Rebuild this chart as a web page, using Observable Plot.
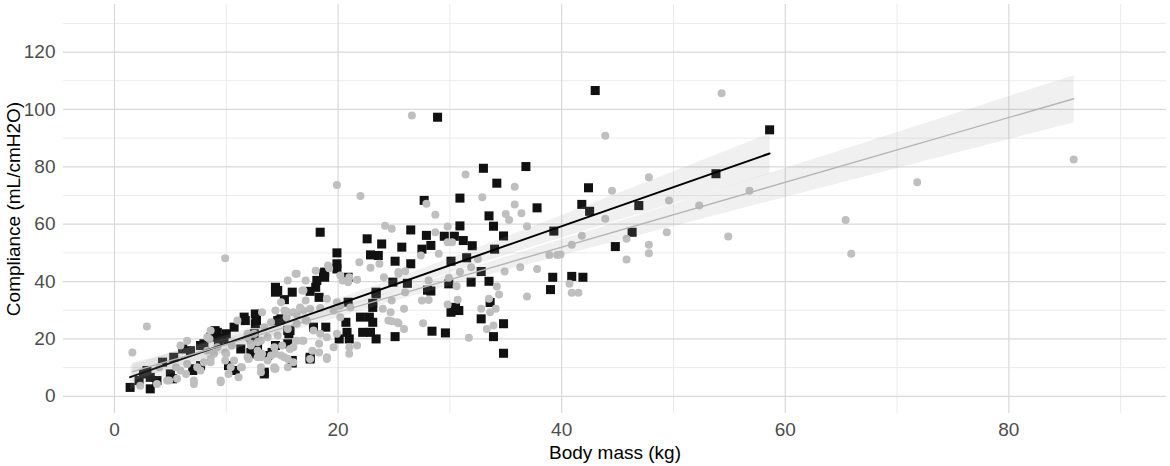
<!DOCTYPE html>
<html>
<head>
<meta charset="utf-8">
<script src="https://cdn.jsdelivr.net/npm/d3@7"></script>
<script src="https://cdn.jsdelivr.net/npm/@observablehq/plot@0.6"></script>
<style>
  html, body { margin: 0; padding: 0; background: #fff; }
  #chart svg { display: block; }
</style>
</head>
<body>
<div id="chart"></div>
<script>
// Black squares: body mass (kg)
const blackMass = [43.0,58.6,53.8,42.4,41.8,42.5,46.9,39.3,46.3,44.8,39.2,40.9,41.9,39.0,
  28.9,33.0,36.8,34.2,27.7,30.9,37.8,33.5,30.9,33.9,26.5,27.9,29.5,30.4,31.2,34.8,25.7,27.5,28.3,32.0,25.1,26.5,30.1,31.5,34.0,32.8,24.9,26.2,29.9,31.9,33.5,28.0,28.3,33.6,30.1,30.8,30.5,32.8,34.8,25.1,28.4,29.6,33.9,34.8,
  18.4,22.6,23.9,19.9,22.9,23.6,19.9,19.9,18.8,18.8,20.9,14.4,14.4,15.9,15.2,18.0,17.5,18.3,23.4,20.9,23.1,23.1,12.7,12.7,14.8,22.0,22.8,23.1,18.9,20.7,20.8,20.1,22.2,22.9,23.4,15.7,12.2,12.5,12.8,12.5,14.4,14.1,15.9,17.5,13.4,
  1.4,3.2,2.9,2.6,4.3,5.0,6.1,6.8,7.7,7.1,8.6,9.2,10.0,10.7,11.6,9.3,10.2,10.8,11.3,12.2,2.2,3.8,
  23.4,14.6,15.5,18.7,21.0,17.8,3.2,5.3,8.0,9.0,9.8,11.7,12.6,12.6,13.4,14.6,14.9,15.6,15.9,18.1,
  5.2,7.0,7.7,13.7,15.5,17.5];
// Black squares: compliance (mL/cmH2O)
const blackCompliance = [106.6,92.9,77.6,72.7,66.9,64.5,66.5,57.6,57.2,52.2,41.5,41.8,41.5,37.2,
  97.3,79.5,80.1,74.3,68.3,69.1,65.7,62.9,59.4,59.3,58.0,56.1,55.8,55.8,54.3,55.9,52.0,51.3,52.6,52.5,47.1,46.2,47.1,48.3,51.3,43.5,39.8,39.4,39.2,39.8,40.1,37.0,36.7,32.7,29.3,29.9,31.0,27.0,25.3,20.8,22.7,22.1,20.8,15.0,
  57.2,54.9,53.1,50.0,49.3,49.1,46.2,44.4,43.3,41.5,41.5,38.0,36.3,36.3,33.7,38.0,36.6,34.5,36.3,32.8,32.4,31.0,28.1,26.4,26.6,27.6,27.6,25.8,24.1,25.8,22.3,20.0,22.3,22.3,20.0,22.9,20.6,21.8,17.1,14.8,17.7,15.3,11.6,13.6,7.8,
  3.1,2.6,9.0,7.8,11.9,7.8,16.5,15.9,17.7,9.6,20.6,22.3,21.8,24.1,27.6,19.4,10.7,9.0,16.5,15.3,5.5,5.5,
  35.7,26.4,22.9,42.7,20.0,24.1,6.6,13.6,18.3,22.9,20.0,26.4,28.7,25.3,8.4,36.9,27.0,21.8,12.5,40.4,
  6.1,9.0,10.7,14.2,18.3,13.0];

// Grey circles: body mass (kg)
const greyMass = [54.3,43.9,47.8,44.5,49.6,52.3,56.8,43.9,41.8,45.8,49.4,54.9,40.9,47.8,47.8,45.8,39.9,40.7,40.9,41.5,65.4,65.9,
  71.8,85.8,
  26.6,31.4,35.8,32.9,35.8,36.4,35.0,35.3,28.7,27.9,36.9,24.8,29.8,28.7,29.8,30.2,29.0,38.9,39.6,27.4,32.5,34.9,36.3,37.8,31.9,30.9,25.4,26.0,29.9,28.1,30.6,34.2,34.4,36.9,26.0,27.5,28.1,24.8,25.9,29.8,30.7,32.8,33.6,34.1,33.5,24.8,25.4,25.9,27.6,33.3,33.9,31.7,
  24.2,21.9,22.9,23.7,19.1,18.0,16.2,15.5,17.1,20.2,20.9,21.7,24.1,25.4,16.8,17.1,19.0,19.9,14.4,15.4,16.3,17.5,18.4,24.0,24.7,25.3,24.5,14.0,13.4,16.3,17.1,15.5,18.4,19.0,18.3,17.7,18.3,19.9,21.0,21.0,21.7,19.0,16.8,14.6,15.0,14.4,15.2,15.7,13.2,13.7,14.3,13.1,12.2,12.8,13.2,
  2.9,1.6,2.3,3.8,4.9,5.6,6.4,7.1,5.5,6.5,7.4,8.0,8.6,8.9,8.3,9.2,9.5,9.9,9.9,10.5,10.2,11.1,11.4,11.0,11.9,12.2,11.9,12.8,8.5,4.0,
  19.9,22.0,9.9,
  19.2,20.4,21.0,20.2,21.1,19.0,17.5,16.0,14.3,13.1,12.0,11.3,10.4,7.1,4.7,13.7,15.4,16.0,16.6,12.8,
  5.9,7.7,8.6,9.5,10.0,10.7,13.1,14.0,14.3,14.9,15.5,16.0,14.4,15.5,15.2,14.9,16.9,17.2,16.3,16.9,16.3,16.9,17.8,19.6,19.6,20.2,11.9,12.5,13.1,8.3,8.6,5.9,6.5];
// Grey circles: compliance (mL/cmH2O)
const greyCompliance = [105.7,90.8,76.4,71.7,68.3,66.5,71.7,61.9,56.0,54.9,57.2,55.7,52.8,52.8,49.9,47.7,49.4,39.2,36.1,36.1,61.5,49.7,
  74.6,82.6,
  97.9,77.3,73.1,69.4,66.9,63.8,63.6,61.5,63.3,67.1,59.3,58.4,59.2,57.2,53.7,53.7,49.7,49.3,49.3,49.1,47.9,43.5,45.0,44.4,45.0,43.3,43.3,43.6,41.3,40.4,38.4,38.3,35.5,34.8,36.3,33.4,33.6,33.4,30.5,32.0,33.7,30.5,29.3,30.5,34.0,26.2,25.5,23.5,25.5,23.5,24.7,20.4,
  59.5,46.7,44.8,46.2,45.6,43.8,42.7,40.4,40.4,42.1,39.8,40.6,41.5,42.7,36.9,33.4,34.0,32.8,29.9,29.6,28.5,30.5,30.8,30.5,29.3,25.8,26.4,25.8,24.1,25.3,26.4,23.5,21.8,20.6,18.3,15.9,15.3,21.8,17.1,14.8,17.7,13.6,19.4,21.2,17.7,14.8,13.6,16.5,14.8,12.5,10.1,10.1,17.7,18.8,29.3,
  24.3,15.3,3.7,4.3,5.5,6.1,7.8,5.5,10.1,11.3,10.1,11.9,13.0,14.8,15.9,17.1,5.5,15.3,12.5,17.7,7.8,6.6,10.1,26.4,21.8,18.3,13.6,13.6,20.0,10.1,
  73.7,69.8,48.1,
  44.6,40.4,41.5,31.6,31.0,13.0,13.0,17.1,9.6,8.4,13.0,10.1,10.1,4.3,5.5,20.6,27.6,29.3,31.0,15.9,
  9.0,9.0,11.9,4.9,14.8,12.5,13.6,14.2,17.1,14.2,13.0,11.9,9.6,10.1,29.9,32.8,29.9,26.4,19.4,19.4,42.7,36.9,22.9,17.1,29.9,27.6,20.6,21.8,19.4,20.6,22.9,17.7,19.4];

const xMajor = [0, 20, 40, 60, 80];
const xMinor = [10, 30, 50, 70, 90];
const yMajor = [0, 20, 40, 60, 80, 100, 120];
const yMinor = [10, 30, 50, 70, 90, 110, 130];
const xTitle = "Body mass (kg)";
const yTitle = "Compliance (mL/cmH2O)";

const black = blackMass.map((m, i) => ({mass: m, compliance: blackCompliance[i]}));
const grey = greyMass.map((m, i) => ({mass: m, compliance: greyCompliance[i]}));

const chart = Plot.plot({
  width: 1170,
  height: 466,
  marginLeft: 63,
  marginRight: 4,
  marginTop: 4,
  marginBottom: 53,
  style: {fontFamily: "'Liberation Sans', Arial, sans-serif", fontSize: "19px", background: "#fff"},
  x: {domain: [-4.56, 94.1]},
  y: {domain: [-6, 136.6]},
  marks: [
    Plot.gridX(xMinor, {stroke: "#ebebeb", strokeOpacity: 1, strokeWidth: 1}),
    Plot.gridY(yMinor, {stroke: "#ebebeb", strokeOpacity: 1, strokeWidth: 1}),
    Plot.gridX(xMajor, {stroke: "#d9d9d9", strokeOpacity: 1, strokeWidth: 1.2}),
    Plot.gridY(yMajor, {stroke: "#d9d9d9", strokeOpacity: 1, strokeWidth: 1.2}),
    Plot.axisX({ticks: xMajor, tickSize: 0, tickPadding: 9, fontSize: 19, color: "#4d4d4d", label: null}),
    Plot.axisY({ticks: yMajor, tickSize: 0, tickPadding: 8, fontSize: 19, color: "#4d4d4d", label: null}),
    Plot.dot(black, {x: "mass", y: "compliance", symbol: "square", r: 5.1, fill: "#111", stroke: "none"}),
    Plot.dot(grey, {x: "mass", y: "compliance", symbol: "circle", r: 4, fill: "#bfbfbf", stroke: "none"}),
    Plot.linearRegressionY(black, {x: "mass", y: "compliance", stroke: "#000", strokeWidth: 2, fill: "#999", fillOpacity: 0.15, ci: 0.95}),
    Plot.linearRegressionY(grey, {x: "mass", y: "compliance", stroke: "#b5b5b5", strokeWidth: 1.4, fill: "#999", fillOpacity: 0.15, ci: 0.95}),
    Plot.text([xTitle], {text: d => d, frameAnchor: "bottom", lineAnchor: "middle", dy: 39, fontSize: 19, fill: "#000"}),
    Plot.text([yTitle], {text: d => d, frameAnchor: "left", lineAnchor: "middle", textAnchor: "middle", rotate: -90, dx: -50, fontSize: 19, fill: "#000"})
  ]
});
document.getElementById("chart").appendChild(chart);
</script>
</body>
</html>
